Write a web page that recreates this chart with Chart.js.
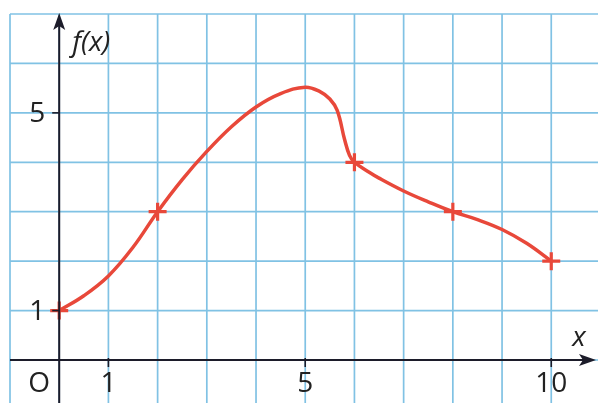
<!DOCTYPE html>
<html>
<head>
<meta charset="utf-8">
<script src="https://cdn.jsdelivr.net/npm/chart.js@4/dist/chart.umd.min.js"></script>
<style>
  html, body { margin: 0; padding: 0; background: #ffffff; }
  #wrap { width: 598px; height: 403px; position: relative; }
</style>
</head>
<body>
<div id="wrap"><canvas id="c"></canvas></div>
<script>
// Curve of f, sampled along x
const curveX = [0, 0.5, 1, 1.5, 2, 2.5, 3, 3.5, 4, 4.5, 5, 5.3, 5.5, 5.65, 5.8, 5.9, 6, 6.3, 6.5, 7, 7.5, 8, 8.5, 9, 9.5, 10];
const curveY = [1, 1.3, 1.7, 2.28, 3, 3.65, 4.22, 4.72, 5.12, 5.39, 5.52, 5.43, 5.28, 5.05, 4.46, 4.14, 4.0, 3.8, 3.68, 3.42, 3.2, 3.0, 2.84, 2.64, 2.36, 2.0];

// Marked points of the table of values
const markX = [0, 2, 6, 8, 10];
const markY = [1, 3, 4, 3, 2];

// Axis graduations
const xTickValues = [0, 1, 5, 10];
const xTickLabels = ['O', '1', '5', '10'];
const yTickValues = [1, 5];
const yTickLabels = ['1', '5'];
const xAxisTitle = 'x';
const yAxisTitle = 'f(x)';

const RED = 'rgb(232, 72, 58)';
const GRID = 'rgb(128, 194, 228)';
const INK = '#1c1c2a';
const FONT = '"Open Sans", "Liberation Sans", sans-serif';

function arrowHead(ctx, tipX, tipY, dir) {
  const L = 17, W = 6, notch = 4;
  ctx.save();
  ctx.translate(tipX, tipY);
  if (dir === 'up') ctx.rotate(-Math.PI / 2);
  ctx.beginPath();
  ctx.moveTo(0, 0);
  ctx.lineTo(-L, -W);
  ctx.lineTo(-L + notch, 0);
  ctx.lineTo(-L, W);
  ctx.closePath();
  ctx.fillStyle = INK;
  ctx.fill();
  ctx.restore();
}

// Squared paper: one square per unit on both axes
const gridPlugin = {
  id: 'squaredPaper',
  beforeDatasetsDraw(chart) {
    const { ctx, chartArea, scales } = chart;
    const sx = scales.x, sy = scales.y;
    ctx.save();
    ctx.strokeStyle = GRID;
    ctx.lineWidth = 1.7;
    for (let v = Math.ceil(sx.min); v <= sx.max; v++) {
      const px = sx.getPixelForValue(v);
      ctx.beginPath();
      ctx.moveTo(px, chartArea.top);
      ctx.lineTo(px, chartArea.bottom);
      ctx.stroke();
    }
    for (let v = Math.ceil(sy.min); v <= sy.max; v++) {
      const py = sy.getPixelForValue(v);
      ctx.beginPath();
      ctx.moveTo(chartArea.left, py);
      ctx.lineTo(chartArea.right, py);
      ctx.stroke();
    }
    ctx.restore();
  }
};

const axesPlugin = {
  id: 'mathAxes',
  afterDatasetsDraw(chart) {
    const { ctx, chartArea, scales } = chart;
    const sx = scales.x, sy = scales.y;
    const x0 = sx.getPixelForValue(0);
    const y0 = sy.getPixelForValue(0);
    ctx.save();
    ctx.strokeStyle = INK;
    ctx.lineWidth = 2;
    ctx.beginPath();
    ctx.moveTo(chartArea.left, y0);
    ctx.lineTo(chartArea.right - 6, y0);
    ctx.stroke();
    arrowHead(ctx, chartArea.right - 2, y0, 'right');
    ctx.beginPath();
    ctx.moveTo(x0, chartArea.bottom);
    ctx.lineTo(x0, chartArea.top + 6);
    ctx.stroke();
    arrowHead(ctx, x0, chartArea.top - 1, 'up');

    ctx.lineWidth = 1.6;
    xTickValues.forEach(v => {
      if (v === 0) return;
      const px = sx.getPixelForValue(v);
      ctx.beginPath();
      ctx.moveTo(px, y0 - 2);
      ctx.lineTo(px, y0 + 7);
      ctx.stroke();
    });
    yTickValues.forEach(v => {
      const py = sy.getPixelForValue(v);
      ctx.beginPath();
      ctx.moveTo(x0 - 7, py);
      ctx.lineTo(x0, py);
      ctx.stroke();
    });

    ctx.fillStyle = '#222222';
    ctx.font = '28px ' + FONT;
    ctx.textBaseline = 'middle';
    ctx.textAlign = 'center';
    xTickValues.forEach((v, i) => {
      let px = sx.getPixelForValue(v);
      if (v === 0) px = x0 - 20;
      ctx.fillText(xTickLabels[i], px, y0 + 24);
    });
    ctx.textAlign = 'right';
    yTickValues.forEach((v, i) => {
      const py = sy.getPixelForValue(v);
      ctx.fillText(yTickLabels[i], x0 - 14, py + 1);
    });

    ctx.font = 'italic 28px ' + FONT;
    ctx.textAlign = 'left';
    ctx.fillText(yAxisTitle, x0 + 13, chartArea.top + 29);
    ctx.textAlign = 'center';
    ctx.fillText(xAxisTitle, chartArea.right - 19, y0 - 22);
    ctx.restore();
  }
};

new Chart(document.getElementById('c'), {
  type: 'line',
  data: {
    datasets: [
      {
        label: 'f',
        data: curveX.map((x, i) => ({ x, y: curveY[i] })),
        borderColor: RED,
        borderWidth: 3.5,
        pointRadius: 0,
        cubicInterpolationMode: 'default',
        tension: 0.4,
        fill: false,
        order: 2
      },
      {
        label: 'points',
        data: markX.map((x, i) => ({ x, y: markY[i] })),
        showLine: false,
        pointStyle: 'cross',
        pointRadius: 9,
        pointBorderWidth: 3.2,
        pointBorderColor: RED,
        pointBackgroundColor: RED,
        order: 1
      }
    ]
  },
  options: {
    responsive: true,
    maintainAspectRatio: false,
    animation: false,
    events: [],
    layout: { autoPadding: false, padding: { left: 10, top: 14, right: 0, bottom: 0 } },
    plugins: { legend: { display: false }, tooltip: { enabled: false } },
    scales: {
      x: { type: 'linear', display: false, min: -1, max: 10.95 },
      y: { type: 'linear', display: false, min: -0.87, max: 7 }
    }
  },
  plugins: [gridPlugin, axesPlugin]
});
</script>
</body>
</html>
